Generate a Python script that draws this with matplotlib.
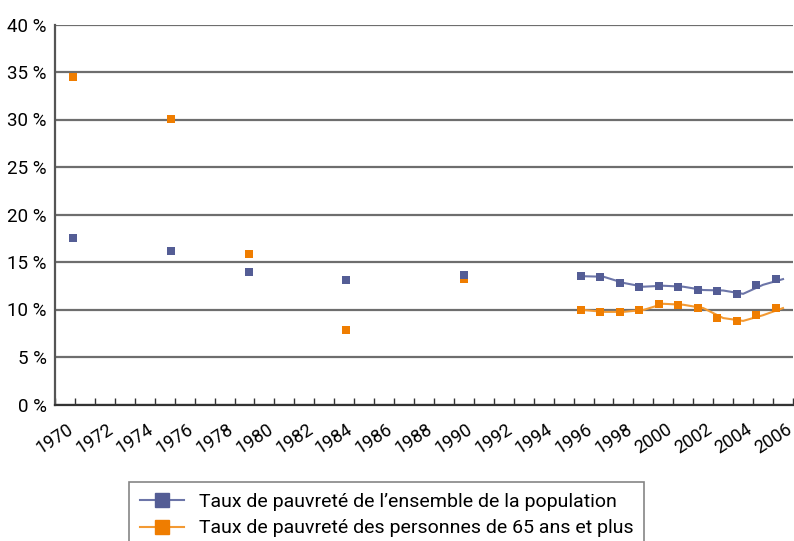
import matplotlib
matplotlib.use("Agg")
import matplotlib.pyplot as plt
from matplotlib.lines import Line2D
from matplotlib.ticker import FuncFormatter
import numpy as np

# taux de pauvrete (%) - valeurs isolees
years_pts = [1970, 1975, 1979, 1984, 1990]
ens_pts = [17.5, 16.2, 13.9, 13.1, 13.6]
p65_pts = [34.5, 30.05, 15.8, 7.8, 13.2]

# serie annuelle 1996-2006
years_ser = list(range(1996, 2007))
ens_ser = [13.5, 13.45, 12.8, 12.4, 12.5, 12.4, 12.05, 12.0, 11.65, 12.6, 13.2]
p65_ser = [9.95, 9.75, 9.75, 9.95, 10.6, 10.5, 10.15, 9.1, 8.8, 9.4, 10.15]

cat_years = list(range(1970, 2007))
lab_years = [y for y in cat_years if y % 2 == 0]

BLUE, BLUE_L = "#545d95", "#6c75a8"
ORANGE, ORANGE_L = "#ef7d00", "#f39a33"
plt.rcParams["font.family"] = ["Roboto", "DejaVu Sans"]

fig = plt.figure(figsize=(7.94, 5.41), dpi=100)
ax = fig.add_axes([55 / 794, 1 - 404.5 / 541, 738 / 794, 380 / 541])

# axe des categories (annees), categories entre les graduations
ax.set_xlim(1970, 2007)
ax.set_ylim(0, 40)
ax.set_xticks(range(1970, 2008))
ax.set_xticklabels([str(y) if y in lab_years else "" for y in range(1970, 2008)],
                   rotation=33, ha="center", fontsize=13)
ax.tick_params(axis="x", direction="in", length=5, width=1, color="#333333", pad=11)
ax.set_yticks(range(0, 41, 5))
ax.yaxis.set_major_formatter(FuncFormatter(lambda v, _: f"{v:.0f} %"))
ax.tick_params(axis="y", length=0, pad=6, labelsize=13.5)
ax.grid(axis="y", color="#6e6e6e", lw=1.6)
ax.set_axisbelow(True)
for s in ["top", "right"]:
    ax.spines[s].set_visible(False)
ax.spines["left"].set_color("#555555")
ax.spines["left"].set_linewidth(1.6)
ax.spines["bottom"].set_color("#333333")
ax.spines["bottom"].set_linewidth(1.6)

ax.plot(np.array(years_ser) + 0.5, p65_ser, color=ORANGE_L, lw=1.5, zorder=3)
ax.plot(np.array(years_ser) + 0.5, ens_ser, color=BLUE_L, lw=1.5, zorder=3)

# points (axe secondaire)
ax2 = ax.twiny()
ax2.set_xlim(1969.08, 2006.87)
ax2.set_ylim(0, 40)
ax2.axis("off")
ax2.plot(years_pts + years_ser, p65_pts + p65_ser, "s", color=ORANGE, ms=6, mew=0)
ax2.plot(years_pts + years_ser, ens_pts + ens_ser, "s", color=BLUE, ms=6, mew=0)

handles = [
    Line2D([], [], color=BLUE_L, lw=1.5, marker="s", ms=10, mfc=BLUE, mec=BLUE),
    Line2D([], [], color=ORANGE_L, lw=1.5, marker="s", ms=10, mfc=ORANGE, mec=ORANGE),
]
labels = ["Taux de pauvreté de l’ensemble de la population",
          "Taux de pauvreté des personnes de 65 ans et plus"]
leg = fig.legend(handles, labels, loc="upper left",
                 bbox_to_anchor=(129 / 794, 1 - 482 / 541),
                 fontsize=14, frameon=True, fancybox=False,
                 handlelength=2.3, handletextpad=0.75, borderpad=0.55,
                 labelspacing=0.45, borderaxespad=0)
leg.get_frame().set_edgecolor("#666666")
leg.get_frame().set_linewidth(1.2)

fig.savefig("out.png", dpi=100)
